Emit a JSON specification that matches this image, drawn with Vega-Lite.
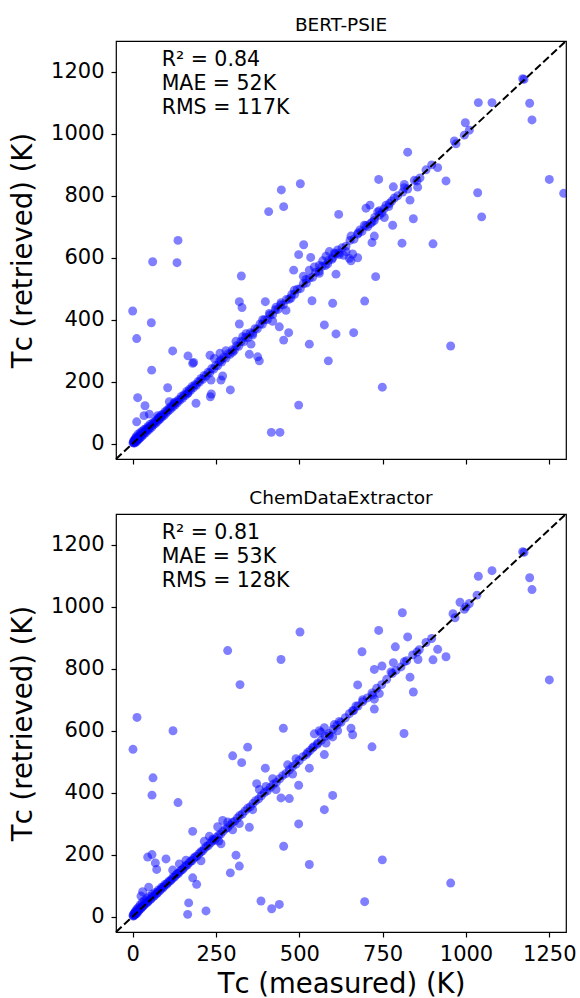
{
  "$schema": "https://vega.github.io/schema/vega-lite/v6.json",
  "autosize": {"type": "none"},
  "padding": {"left": 116, "top": 41, "right": 464, "bottom": 957},
  "background": "white",
  "bounds": "flush",
  "spacing": 55,
  "config": {
    "view": {"stroke": "#000", "strokeWidth": 1.2},
    "axis": {"labelFont": "DejaVu Sans", "labelFontSize": 21, "labelColor": "#000", "titleFont": "DejaVu Sans", "titleFontSize": 27.5, "titleColor": "#000", "titleFontWeight": "normal", "tickColor": "#000", "tickSize": 5, "tickWidth": 1.2, "domain": false, "grid": false, "labelPadding": 7, "format": "d"},
    "title": {"font": "DejaVu Sans", "fontSize": 18.5, "fontWeight": "normal", "color": "#000", "offset": 6, "anchor": "middle"}
  },
  "datasets": {
    "bert": [
      {"x":503,"y":839},{"x":446,"y":819},{"x":453,"y":765},{"x":408,"y":749},{"x":618,"y":740},{"x":136,"y":656},{"x":513,"y":642},
      {"x":60,"y":587},{"x":133,"y":584},{"x":498,"y":610},{"x":534,"y":601},{"x":483,"y":560},{"x":610,"y":547},{"x":326,"y":541},
      {"x":320,"y":458},{"x":328,"y":439},{"x":398,"y":458},{"x":538,"y":461},{"x":600,"y":453},{"x":0,"y":428},{"x":56,"y":390},{"x":12,"y":339},
      {"x":320,"y":386},{"x":575,"y":383},{"x":610,"y":354},{"x":440,"y":377},{"x":468,"y":358},{"x":453,"y":334},{"x":530,"y":321},{"x":587,"y":267},
      {"x":120,"y":299},{"x":166,"y":283},{"x":180,"y":259},{"x":183,"y":262},{"x":57,"y":237},{"x":355,"y":321},{"x":350,"y":288},{"x":375,"y":280},
      {"x":380,"y":267},{"x":293,"y":173},{"x":105,"y":180},{"x":15,"y":148},{"x":37,"y":122},{"x":12,"y":70},{"x":190,"y":130},{"x":233,"y":151},
      {"x":236,"y":160},{"x":498,"y":124},{"x":416,"y":36},{"x":442,"y":36},
      {"x":1170,"y":1178},{"x":1174,"y":1176},{"x":1037,"y":1101},{"x":1078,"y":1101},{"x":1191,"y":1099},{"x":1198,"y":1045},{"x":998,"y":1036},
      {"x":1010,"y":1012},{"x":995,"y":996},{"x":965,"y":977},{"x":970,"y":968},{"x":825,"y":941},{"x":897,"y":900},{"x":915,"y":891},{"x":940,"y":848},
      {"x":738,"y":853},{"x":782,"y":829},{"x":815,"y":837},{"x":815,"y":826},{"x":853,"y":848},{"x":855,"y":828},{"x":1250,"y":853},{"x":1293,"y":808},
      {"x":1035,"y":810},{"x":1047,"y":732},{"x":832,"y":786},{"x":842,"y":726},{"x":780,"y":705},{"x":725,"y":670},{"x":718,"y":649},{"x":808,"y":647},
      {"x":901,"y":645},{"x":729,"y":539},{"x":696,"y":460},{"x":663,"y":358},{"x":954,"y":315},{"x":749,"y":182},
      {"x":655,"y":670},{"x":675,"y":676},{"x":682,"y":690},{"x":695,"y":705},{"x":705,"y":700},{"x":718,"y":715},{"x":725,"y":720},{"x":740,"y":752},
      {"x":748,"y":745},{"x":755,"y":730},{"x":700,"y":760},{"x":712,"y":770},{"x":735,"y":748},{"x":777,"y":783},{"x":785,"y":793},{"x":760,"y":770},{"x":770,"y":775},
      {"x":633,"y":608},{"x":650,"y":598},{"x":655,"y":590},{"x":675,"y":600},{"x":640,"y":620},{"x":660,"y":612},
      {"x":512,"y":540},{"x":520,"y":530},{"x":530,"y":560},{"x":545,"y":570},{"x":560,"y":575},{"x":570,"y":590},{"x":580,"y":605},{"x":585,"y":580},
      {"x":600,"y":600},{"x":590,"y":620},{"x":605,"y":615},{"x":615,"y":625},{"x":620,"y":610},{"x":560,"y":550},
      {"x":34,"y":90},{"x":50,"y":95},{"x":75,"y":90},{"x":82,"y":85},{"x":110,"y":135},{"x":125,"y":132},{"x":165,"y":162},{"x":232,"y":285},
      {"x":245,"y":275},{"x":265,"y":270},{"x":270,"y":218},{"x":265,"y":205},{"x":235,"y":205},{"x":262,"y":292},{"x":280,"y":300},{"x":300,"y":295},
      {"x":310,"y":330},{"x":330,"y":345},{"x":340,"y":355},{"x":360,"y":350},{"x":390,"y":400},{"x":410,"y":420},{"x":420,"y":395},{"x":430,"y":440},
      {"x":445,"y":455},{"x":460,"y":430},{"x":475,"y":470},{"x":485,"y":495},
      {"x":1,"y":2},{"x":2,"y":6},{"x":3,"y":3},{"x":4,"y":10},{"x":5,"y":1},{"x":6,"y":8},{"x":7,"y":14},{"x":8,"y":4},{"x":9,"y":18},{"x":10,"y":10},
      {"x":11,"y":22},{"x":12,"y":6},{"x":13,"y":16},{"x":15,"y":12},{"x":16,"y":30},{"x":18,"y":20},{"x":19,"y":14},{"x":20,"y":25},{"x":22,"y":18},
      {"x":23,"y":35},{"x":25,"y":27},{"x":27,"y":22},{"x":28,"y":40},{"x":30,"y":33},{"x":32,"y":28},{"x":34,"y":45},{"x":36,"y":38},{"x":38,"y":34},
      {"x":40,"y":48},{"x":42,"y":44},{"x":44,"y":40},{"x":46,"y":55},{"x":48,"y":50},{"x":50,"y":46},{"x":52,"y":62},{"x":55,"y":57},{"x":57,"y":52},
      {"x":60,"y":66},{"x":62,"y":60},{"x":65,"y":70},{"x":68,"y":64},{"x":70,"y":75},{"x":73,"y":70},{"x":76,"y":82},{"x":78,"y":76},{"x":80,"y":84},
      {"x":83,"y":80},{"x":86,"y":92},{"x":88,"y":86},{"x":91,"y":95},{"x":94,"y":90},{"x":97,"y":103},{"x":100,"y":98},{"x":103,"y":108},{"x":106,"y":104},
      {"x":110,"y":115},{"x":113,"y":110},{"x":116,"y":120},{"x":120,"y":118},{"x":123,"y":128},{"x":127,"y":124},{"x":130,"y":135},{"x":134,"y":131},
      {"x":138,"y":142},{"x":142,"y":140},{"x":146,"y":152},{"x":150,"y":147},{"x":154,"y":158},{"x":158,"y":155},{"x":162,"y":168},{"x":166,"y":163},
      {"x":170,"y":175},{"x":174,"y":172},{"x":178,"y":184},{"x":182,"y":180},{"x":187,"y":190},{"x":191,"y":188},{"x":196,"y":200},{"x":200,"y":198},
      {"x":205,"y":210},{"x":210,"y":207},{"x":215,"y":220},{"x":220,"y":217},{"x":226,"y":230},{"x":231,"y":228},{"x":237,"y":242},{"x":243,"y":240},
      {"x":249,"y":252},{"x":255,"y":251},{"x":261,"y":266},{"x":267,"y":263},{"x":273,"y":278},{"x":280,"y":276},{"x":286,"y":290},{"x":292,"y":288},
      {"x":299,"y":303},{"x":305,"y":301},{"x":312,"y":316},{"x":318,"y":314},{"x":325,"y":330},{"x":332,"y":328},{"x":339,"y":343},{"x":346,"y":342},
      {"x":353,"y":358},{"x":360,"y":356},{"x":367,"y":371},{"x":374,"y":370},{"x":382,"y":386},{"x":389,"y":385},{"x":396,"y":400},{"x":404,"y":400},
      {"x":412,"y":416},{"x":420,"y":416},{"x":428,"y":432},{"x":436,"y":433},{"x":444,"y":448},{"x":452,"y":448},{"x":461,"y":465},{"x":469,"y":466},
      {"x":477,"y":481},{"x":486,"y":482},{"x":494,"y":498},{"x":503,"y":500},{"x":512,"y":516},{"x":521,"y":518},{"x":530,"y":534},{"x":540,"y":537},
      {"x":549,"y":553},{"x":559,"y":556},{"x":568,"y":572},{"x":578,"y":575},{"x":588,"y":592},{"x":598,"y":595},{"x":608,"y":612},{"x":618,"y":615},
      {"x":628,"y":632},{"x":640,"y":637},{"x":652,"y":656},{"x":664,"y":660},{"x":676,"y":680},{"x":688,"y":685},{"x":700,"y":704},{"x":713,"y":710},
      {"x":726,"y":730},{"x":740,"y":737},{"x":754,"y":758},{"x":768,"y":765},{"x":795,"y":800},{"x":810,"y":812},{"x":825,"y":822},{"x":845,"y":850},
      {"x":862,"y":858},{"x":880,"y":884}
    ],
    "cde": [
      {"x":502,"y":919},{"x":285,"y":859},{"x":445,"y":830},{"x":322,"y":749},{"x":13,"y":643},{"x":1,"y":540},{"x":121,"y":600},{"x":61,"y":448},
      {"x":58,"y":392},{"x":136,"y":368},{"x":452,"y":608},{"x":345,"y":547},{"x":300,"y":519},{"x":327,"y":497},{"x":398,"y":479},{"x":372,"y":429},
      {"x":498,"y":424},{"x":600,"y":391},{"x":575,"y":345},{"x":530,"y":479},{"x":575,"y":523},{"x":445,"y":383},{"x":470,"y":381},{"x":498,"y":299},
      {"x":453,"y":227},{"x":530,"y":168},{"x":180,"y":275},{"x":350,"y":288},{"x":310,"y":198},{"x":320,"y":163},{"x":293,"y":141},{"x":45,"y":192},
      {"x":58,"y":200},{"x":100,"y":186},{"x":68,"y":173},{"x":72,"y":152},{"x":180,"y":125},{"x":192,"y":104},{"x":168,"y":44},{"x":165,"y":7},
      {"x":220,"y":18},{"x":385,"y":50},{"x":417,"y":25},{"x":440,"y":39},{"x":25,"y":66},{"x":215,"y":243},{"x":230,"y":259},{"x":240,"y":250},{"x":258,"y":244},
      {"x":655,"y":608},{"x":660,"y":587},{"x":718,"y":548},{"x":814,"y":591},{"x":749,"y":183},{"x":954,"y":108},{"x":696,"y":48},
      {"x":1170,"y":1178},{"x":1174,"y":1176},{"x":1037,"y":1099},{"x":1078,"y":1117},{"x":1191,"y":1094},{"x":1198,"y":1056},{"x":1033,"y":1038},
      {"x":982,"y":1015},{"x":1000,"y":1000},{"x":995,"y":992},{"x":1010,"y":1011},{"x":961,"y":978},{"x":967,"y":965},{"x":809,"y":981},{"x":738,"y":924},
      {"x":825,"y":903},{"x":897,"y":898},{"x":788,"y":871},{"x":688,"y":855},{"x":915,"y":863},{"x":940,"y":839},{"x":901,"y":829},{"x":853,"y":854},
      {"x":856,"y":830},{"x":815,"y":823},{"x":782,"y":820},{"x":748,"y":809},{"x":725,"y":798},{"x":779,"y":785},{"x":775,"y":790},{"x":832,"y":773},
      {"x":842,"y":725},{"x":675,"y":748},{"x":1250,"y":764},{"x":725,"y":670},{"x":725,"y":702},{"x":690,"y":700},{"x":720,"y":715},{"x":740,"y":720},
      {"x":660,"y":665},{"x":670,"y":680},
      {"x":560,"y":600},{"x":575,"y":610},{"x":590,"y":585},{"x":605,"y":620},{"x":615,"y":600},{"x":600,"y":580},{"x":620,"y":630},{"x":555,"y":560},
      {"x":540,"y":545},{"x":525,"y":530},{"x":580,"y":560},{"x":545,"y":590},{"x":565,"y":595},
      {"x":30,"y":80},{"x":48,"y":95},{"x":120,"y":150},{"x":140,"y":170},{"x":160,"y":182},{"x":255,"y":290},{"x":270,"y":310},{"x":285,"y":305},
      {"x":300,"y":280},{"x":320,"y":300},{"x":265,"y":235},{"x":205,"y":180},{"x":360,"y":345},{"x":380,"y":410},{"x":400,"y":420},{"x":420,"y":445},
      {"x":430,"y":410},{"x":465,"y":490},{"x":480,"y":460},{"x":490,"y":510},
      {"x":1,"y":4},{"x":2,"y":1},{"x":3,"y":8},{"x":4,"y":3},{"x":5,"y":12},{"x":6,"y":6},{"x":8,"y":15},{"x":9,"y":8},{"x":10,"y":20},{"x":11,"y":12},
      {"x":13,"y":10},{"x":14,"y":25},{"x":16,"y":16},{"x":18,"y":30},{"x":19,"y":20},{"x":21,"y":24},{"x":23,"y":38},{"x":25,"y":26},{"x":27,"y":30},
      {"x":29,"y":45},{"x":31,"y":33},{"x":33,"y":36},{"x":35,"y":52},{"x":38,"y":40},{"x":40,"y":44},{"x":42,"y":58},{"x":45,"y":47},{"x":47,"y":50},
      {"x":50,"y":65},{"x":53,"y":55},{"x":56,"y":58},{"x":59,"y":72},{"x":62,"y":64},{"x":65,"y":67},{"x":68,"y":78},{"x":71,"y":73},{"x":74,"y":76},
      {"x":77,"y":86},{"x":80,"y":82},{"x":84,"y":87},{"x":87,"y":95},{"x":90,"y":92},{"x":94,"y":97},{"x":97,"y":104},{"x":101,"y":103},{"x":105,"y":108},
      {"x":109,"y":114},{"x":113,"y":115},{"x":117,"y":120},{"x":121,"y":126},{"x":125,"y":127},{"x":129,"y":133},{"x":133,"y":138},{"x":137,"y":139},
      {"x":141,"y":145},{"x":146,"y":150},{"x":150,"y":152},{"x":155,"y":159},{"x":160,"y":165},{"x":164,"y":166},{"x":169,"y":173},{"x":174,"y":179},
      {"x":178,"y":180},{"x":183,"y":188},{"x":188,"y":193},{"x":193,"y":195},{"x":199,"y":203},{"x":204,"y":209},{"x":209,"y":211},{"x":215,"y":219},
      {"x":221,"y":226},{"x":227,"y":229},{"x":233,"y":237},{"x":239,"y":244},{"x":245,"y":247},{"x":251,"y":255},{"x":258,"y":263},{"x":264,"y":266},
      {"x":271,"y":275},{"x":278,"y":283},{"x":285,"y":287},{"x":292,"y":296},{"x":299,"y":304},{"x":306,"y":308},{"x":314,"y":318},{"x":321,"y":326},
      {"x":329,"y":331},{"x":337,"y":341},{"x":345,"y":350},{"x":353,"y":355},{"x":361,"y":365},{"x":369,"y":374},{"x":378,"y":380},{"x":386,"y":390},
      {"x":395,"y":400},{"x":404,"y":406},{"x":413,"y":417},{"x":422,"y":427},{"x":431,"y":433},{"x":441,"y":445},{"x":450,"y":455},{"x":460,"y":462},
      {"x":470,"y":474},{"x":480,"y":485},{"x":490,"y":492},{"x":500,"y":504},{"x":511,"y":516},{"x":521,"y":523},{"x":532,"y":536},{"x":543,"y":548},
      {"x":554,"y":556},{"x":566,"y":570},{"x":577,"y":582},{"x":589,"y":591},{"x":601,"y":605},{"x":613,"y":618},{"x":625,"y":627},{"x":638,"y":642},
      {"x":650,"y":655},{"x":663,"y":665},{"x":676,"y":680},{"x":690,"y":694},{"x":704,"y":706},{"x":718,"y":722},{"x":732,"y":737},{"x":747,"y":749},
      {"x":762,"y":766},{"x":790,"y":795},{"x":805,"y":806},{"x":822,"y":826},{"x":840,"y":845},{"x":860,"y":862},{"x":880,"y":885}
    ]
  },
  "vconcat": [
    {
      "title": "BERT-PSIE",
      "width": 450,
      "height": 418,
      "layer": [
        {
          "data": {"name": "bert"},
          "mark": {"type": "circle", "size": 80, "color": "#0000ff", "opacity": 0.5, "clip": true},
          "encoding": {
            "x": {"field": "x", "type": "quantitative", "scale": {"domain": [-50, 1300], "nice": false, "zero": false}, "axis": {"labels": false, "title": null, "values": [0, 250, 500, 750, 1000, 1250]}},
            "y": {"field": "y", "type": "quantitative", "scale": {"domain": [-50, 1300], "nice": false, "zero": false}, "axis": {"title": "Tᴄ (retrieved) (K)", "values": [0, 200, 400, 600, 800, 1000, 1200], "titlePadding": 13}}
          }
        },
        {
          "data": {"values": [{}]},
          "mark": {"type": "rule", "strokeDash": [7.7, 3.3], "strokeWidth": 2, "color": "#000"},
          "encoding": {"x": {"datum": -50}, "y": {"datum": -50}, "x2": {"datum": 1300}, "y2": {"datum": 1300}}
        },
        {
          "data": {"values": [{}]},
          "mark": {"type": "text", "text": ["R² = 0.84", "MAE = 52K", "RMS = 117K"], "font": "DejaVu Sans", "fontSize": 20.5, "lineHeight": 24, "align": "left", "baseline": "alphabetic", "color": "#000"},
          "encoding": {"x": {"datum": 87}, "y": {"datum": 1220}}
        }
      ]
    },
    {
      "title": "ChemDataExtractor",
      "width": 450,
      "height": 418,
      "layer": [
        {
          "data": {"name": "cde"},
          "mark": {"type": "circle", "size": 80, "color": "#0000ff", "opacity": 0.5, "clip": true},
          "encoding": {
            "x": {"field": "x", "type": "quantitative", "scale": {"domain": [-50, 1300], "nice": false, "zero": false}, "axis": {"title": "Tᴄ (measured) (K)", "values": [0, 250, 500, 750, 1000, 1250], "titlePadding": 6, "labelPadding": 6}},
            "y": {"field": "y", "type": "quantitative", "scale": {"domain": [-50, 1300], "nice": false, "zero": false}, "axis": {"title": "Tᴄ (retrieved) (K)", "values": [0, 200, 400, 600, 800, 1000, 1200], "titlePadding": 13}}
          }
        },
        {
          "data": {"values": [{}]},
          "mark": {"type": "rule", "strokeDash": [7.7, 3.3], "strokeWidth": 2, "color": "#000"},
          "encoding": {"x": {"datum": -50}, "y": {"datum": -50}, "x2": {"datum": 1300}, "y2": {"datum": 1300}}
        },
        {
          "data": {"values": [{}]},
          "mark": {"type": "text", "text": ["R² = 0.81", "MAE = 53K", "RMS = 128K"], "font": "DejaVu Sans", "fontSize": 20.5, "lineHeight": 24, "align": "left", "baseline": "alphabetic", "color": "#000"},
          "encoding": {"x": {"datum": 87}, "y": {"datum": 1220}}
        }
      ]
    }
  ]
}
